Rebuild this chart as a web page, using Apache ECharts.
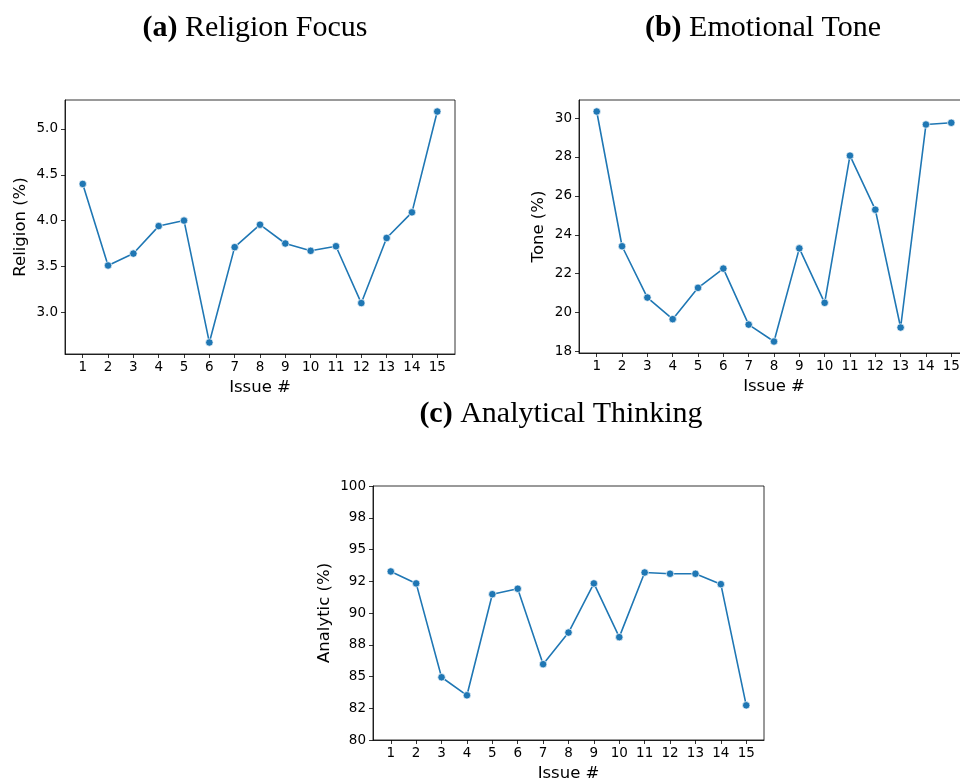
<!DOCTYPE html>
<html>
<head>
<meta charset="utf-8">
<script src="https://cdn.jsdelivr.net/npm/echarts@6/dist/echarts.min.js"></script>
<style>
  html, body { margin: 0; padding: 0; background: #fff; }
  #chart { width: 960px; height: 781px; }
</style>
</head>
<body>
<div id="chart"></div>
<script>
// ---- data ----
const issues = [1, 2, 3, 4, 5, 6, 7, 8, 9, 10, 11, 12, 13, 14, 15];
const religion = [4.40, 3.51, 3.64, 3.94, 4.00, 2.67, 3.71, 3.955, 3.75, 3.67, 3.72, 3.10, 3.81, 4.09, 5.19];
const tone = [30.34, 23.41, 20.77, 19.66, 21.27, 22.26, 19.38, 18.51, 23.30, 20.50, 28.07, 25.29, 19.23, 29.67, 29.76];
const analytic = [93.27, 92.33, 84.94, 83.52, 91.48, 91.91, 85.97, 88.46, 92.33, 88.10, 93.19, 93.09, 93.09, 92.27, 82.73];

const religionTicks = [3.0, 3.5, 4.0, 4.5, 5.0];
const toneTicks = [18, 20, 22, 24, 26, 28, 30];
const analyticTickLabels = ['80', '82', '85', '88', '90', '92', '95', '98', '100'];

const titles = [
  { tag: '(a)', text: 'Religion Focus', x: 255, y: 28 },
  { tag: '(b)', text: 'Emotional Tone', x: 763, y: 28 },
  { tag: '(c)', text: 'Analytical Thinking', x: 561, y: 414 }
];

// ---- helpers ----
const BLUE = '#1f77b4';
const TICK_FONT = 13.5;
const LABEL_FONT = 16.5;
const TITLE_FONT = 30;

function pad(vals) {
  const mn = Math.min(...vals), mx = Math.max(...vals);
  const m = (mx - mn) * 0.05;
  return [mn - m, mx + m];
}
const [xMin, xMax] = pad(issues);

function xAxisCfg(gridIndex) {
  return {
    gridIndex, type: 'value', min: xMin, max: xMax,
    name: 'Issue #', nameLocation: 'middle', nameGap: 25,
    nameTextStyle: { fontFamily: 'DejaVu Sans', fontSize: LABEL_FONT, color: '#000' },
    axisLine: { show: true, onZero: false, lineStyle: { color: '#000', width: 0.8 } },
    axisTick: { show: true, length: 4, customValues: issues, lineStyle: { color: '#000', width: 0.8 } },
    axisLabel: { customValues: issues, margin: 6, fontFamily: 'DejaVu Sans', fontSize: TICK_FONT, color: '#000' },
    splitLine: { show: false }
  };
}

function yAxisCfg(gridIndex, name, nameGap, extra) {
  return Object.assign({
    gridIndex, type: 'value', name, nameLocation: 'middle', nameGap,
    nameTextStyle: { fontFamily: 'DejaVu Sans', fontSize: LABEL_FONT, color: '#000' },
    axisLine: { show: true, onZero: false, lineStyle: { color: '#000', width: 0.8 } },
    axisTick: { show: true, length: 4, lineStyle: { color: '#000', width: 0.8 } },
    axisLabel: { margin: 7, fontFamily: 'DejaVu Sans', fontSize: TICK_FONT, color: '#000' },
    splitLine: { show: false }
  }, extra);
}

function seriesCfg(idx, values) {
  return {
    type: 'line', xAxisIndex: idx, yAxisIndex: idx,
    data: issues.map((x, i) => [x, values[i]]),
    symbol: 'circle', symbolSize: 7.5, showSymbol: true,
    lineStyle: { color: BLUE, width: 1.6 },
    itemStyle: { color: BLUE, borderColor: '#fff', borderWidth: 0.7 },
    animation: false, silent: true
  };
}

const [rMin, rMax] = pad(religion);
const [tMin, tMax] = pad(tone);

const gridBase = { show: true, borderColor: '#000', borderWidth: 0.8, backgroundColor: 'transparent',
  containLabel: false, outerBoundsMode: 'none' };

const option = {
  backgroundColor: '#fff',
  animation: false,
  title: titles.map(t => ({
    text: '{b|' + t.tag + '} {n|' + t.text + '}',
    left: t.x, top: t.y, textAlign: 'center', textVerticalAlign: 'middle',
    padding: 0,
    textStyle: {
      fontWeight: 'normal', fontFamily: 'Liberation Serif', fontSize: TITLE_FONT,
      rich: {
        b: { fontFamily: 'Liberation Serif', fontWeight: 'bold', fontSize: TITLE_FONT, color: '#000' },
        n: { fontFamily: 'Liberation Serif', fontWeight: 'normal', fontSize: TITLE_FONT, color: '#000' }
      }
    }
  })),
  grid: [
    Object.assign({ left: 65, top: 100, width: 390, height: 254 }, gridBase),
    Object.assign({ left: 579, top: 100, width: 390, height: 253 }, gridBase),
    Object.assign({ left: 373, top: 486, width: 391, height: 254 }, gridBase)
  ],
  xAxis: [xAxisCfg(0), xAxisCfg(1), xAxisCfg(2)],
  yAxis: [
    yAxisCfg(0, 'Religion (%)', 36, {
      min: rMin, max: rMax,
      axisTick: { show: true, length: 4, customValues: religionTicks, lineStyle: { color: '#000', width: 0.8 } },
      axisLabel: { customValues: religionTicks, margin: 7, fontFamily: 'DejaVu Sans', fontSize: TICK_FONT, color: '#000',
        formatter: v => v.toFixed(1) }
    }),
    yAxisCfg(1, 'Tone (%)', 32, {
      min: tMin, max: tMax,
      axisTick: { show: true, length: 4, customValues: toneTicks, lineStyle: { color: '#000', width: 0.8 } },
      axisLabel: { customValues: toneTicks, margin: 7, fontFamily: 'DejaVu Sans', fontSize: TICK_FONT, color: '#000' }
    }),
    yAxisCfg(2, 'Analytic (%)', 40, {
      min: 80, max: 100, interval: 2.5,
      axisLabel: { margin: 7, fontFamily: 'DejaVu Sans', fontSize: TICK_FONT, color: '#000',
        formatter: (v) => analyticTickLabels[Math.round((v - 80) / 2.5)] }
    })
  ],
  series: [seriesCfg(0, religion), seriesCfg(1, tone), seriesCfg(2, analytic)]
};

const chart = echarts.init(document.getElementById('chart'), null, { renderer: 'canvas' });
chart.setOption(option);
</script>
</body>
</html>
